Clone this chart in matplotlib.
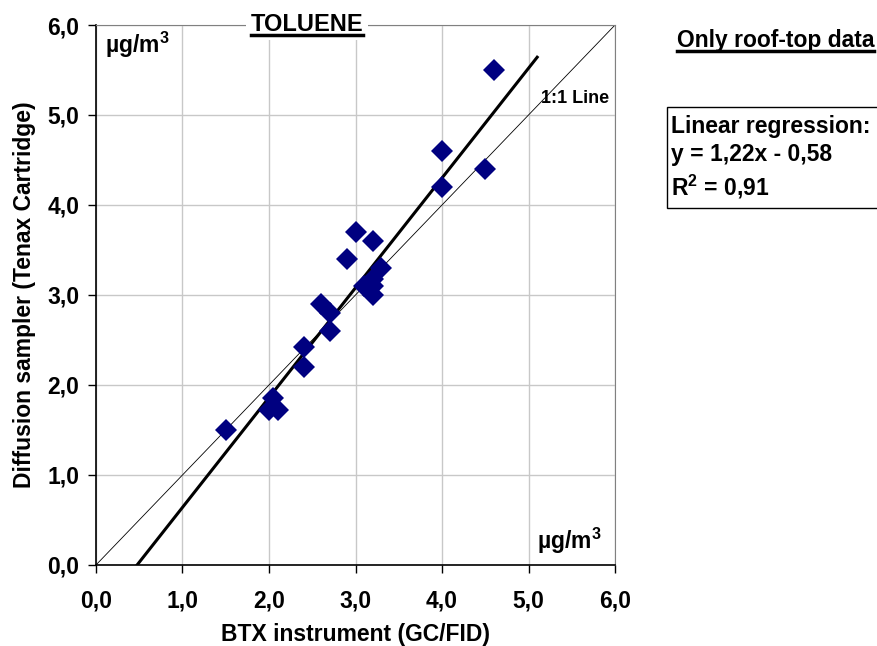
import matplotlib.pyplot as plt
from matplotlib.lines import Line2D
from matplotlib.patches import Rectangle
from matplotlib.ticker import FuncFormatter

plt.rcParams['font.family'] = ['Liberation Sans', 'DejaVu Sans']
plt.rcParams['font.weight'] = 'bold'
plt.rcParams['mathtext.fontset'] = 'custom'
plt.rcParams['mathtext.rm'] = 'Liberation Sans:bold'
plt.rcParams['mathtext.bf'] = 'Liberation Sans:bold'

# BTX instrument vs diffusion sampler, toluene, ug/m3
btx = [1.5, 2.0, 2.1, 2.05, 2.4, 2.4, 2.6, 2.7, 2.7, 2.9, 3.0, 3.2,
       3.1, 3.2, 3.2, 3.2, 3.3, 4.0, 4.0, 4.5, 4.6]
sampler = [1.5, 1.72, 1.72, 1.85, 2.42, 2.2, 2.9, 2.8, 2.6, 3.4, 3.7, 3.6,
           3.1, 3.0, 3.1, 3.18, 3.3, 4.6, 4.2, 4.4, 5.5]
slope, intercept = 1.22, -0.58
fit_x = [0.475, 5.1]
one_to_one = [0.0, 6.0]

FS = 16.5

fig = plt.figure(figsize=(8.78, 6.46), dpi=100)
ax = fig.add_axes([0.1093, 0.1254, 0.5912, 0.8359])

ax.plot(one_to_one, one_to_one, color='black', lw=0.6, zorder=2)
ax.plot(fit_x, [slope * v + intercept for v in fit_x], color='black', lw=2.2, zorder=2)
ax.plot(btx, sampler, 'D', color='#000080', ms=11.2, mew=0, zorder=3)

ax.set_xlim(0, 6)
ax.set_ylim(0, 6)
ax.set_xticks(range(7))
ax.set_yticks(range(7))
fmt = FuncFormatter(lambda v, p: f'{v:.1f}'.replace('.', ','))
ax.xaxis.set_major_formatter(fmt)
ax.yaxis.set_major_formatter(fmt)
ax.tick_params(labelsize=FS, length=6, width=1)
ax.tick_params(axis='x', pad=12)
ax.tick_params(axis='y', pad=6)
ax.grid(True, color='#c8c8c8', lw=1)
ax.set_axisbelow(True)
for s in ['top', 'right']:
    ax.spines[s].set_color('#808080')
for s in ['left', 'bottom']:
    ax.spines[s].set_linewidth(1.2)

ax.set_xlabel('BTX instrument (GC/FID)', fontsize=FS, fontweight='bold', labelpad=7)
ax.set_ylabel('Diffusion sampler (Tenax Cartridge)', fontsize=FS, fontweight='bold', labelpad=8)

ax.text(0.1, 5.78, 'µg/m$^{3}$', fontsize=FS, fontweight='bold', va='center')
ax.text(5.1, 0.27, 'µg/m$^{3}$', fontsize=FS, fontweight='bold', va='center')
ax.text(5.14, 5.18, '1:1 Line', fontsize=13, fontweight='bold', va='center')

title = ax.text(2.44, 6.01, 'TOLUENE', fontsize=17, fontweight='bold', ha='center', va='center',
                bbox=dict(facecolor='white', edgecolor='none', pad=3), clip_on=False)
note = fig.text(0.883, 0.937, 'Only roof-top data', fontsize=16.5, fontweight='bold',
                ha='center', va='center')

# regression box
fig.add_artist(Rectangle((0.7597, 0.678), 0.26, 0.156, transform=fig.transFigure,
                         facecolor='white', edgecolor='black', lw=1))
fig.text(0.764, 0.755, 'Linear regression:\ny = 1,22x - 0,58\nR$^{2}$ = 0,91',
         fontsize=FS, fontweight='bold', va='center', ha='left', linespacing=1.3)

# underline the two headings
fig.canvas.draw()
r = fig.canvas.get_renderer()
for t in [title, note]:
    bb = t.get_window_extent(r)
    W, H = fig.bbox.width, fig.bbox.height
    y = (bb.y0 + 1) / H
    fig.add_artist(Line2D([bb.x0 / W, bb.x1 / W], [y, y], color='black', lw=2.5))

fig.savefig('out.png', dpi=100)
